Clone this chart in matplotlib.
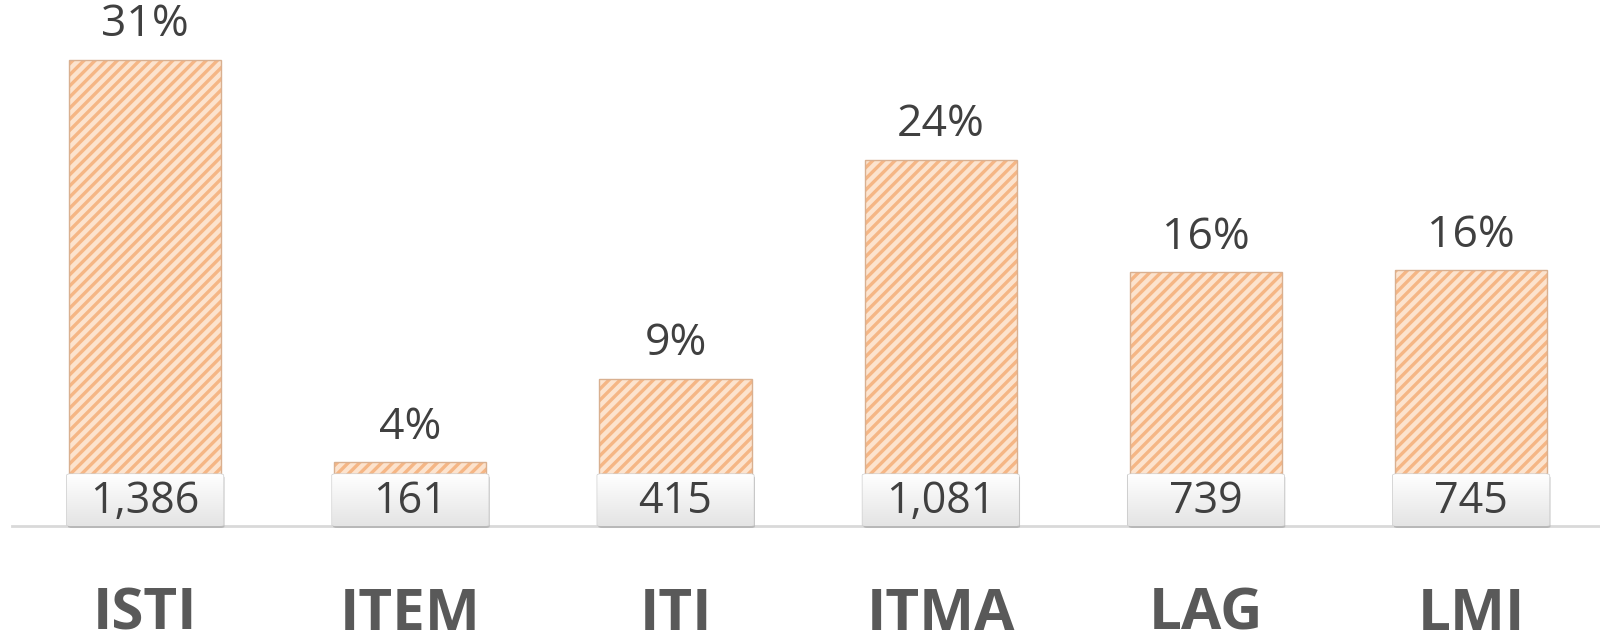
import matplotlib.pyplot as plt
from matplotlib.patches import FancyBboxPatch
import matplotlib as mpl
import numpy as np

categories = ['ISTI', 'ITEM', 'ITI', 'ITMA', 'LAG', 'LMI']
counts = [1386, 161, 415, 1081, 739, 745]
shares = ['31%', '4%', '9%', '24%', '16%', '16%']

mpl.rcParams['hatch.linewidth'] = 2.4

fig = plt.figure(figsize=(16, 6.34), dpi=100)
ax = fig.add_axes([0.0075, 0.1703, 0.9925, 0.8297])

base = -33  # baseline sits a little below the bars' zero (hidden by the boxes)

x = list(range(len(categories)))
bars = ax.bar(x, counts, width=0.574, color='#FCE3CE', hatch='///',
              edgecolor='#F5B685', linewidth=0, zorder=2)
for b in bars:
    ax.add_patch(plt.Rectangle(b.get_xy(), b.get_width(), b.get_height(),
                               fill=False, edgecolor='#D9B090', linewidth=1.0, zorder=3))

ax.set_xlim(-0.502, 5.486)
ax.set_ylim(base, 1567)

box_w = 0.59
box_h = 158
grad = np.linspace(0, 1, 64).reshape(-1, 1)
gcmap = mpl.colors.LinearSegmentedColormap.from_list('g', ['#E4E4E4', '#FFFFFF'])
for xi, c, s in zip(x, counts, shares):
    # shadow
    ax.add_patch(FancyBboxPatch((xi - box_w / 2 + 0.004, base - 6), box_w, box_h,
                                boxstyle='round,pad=0,rounding_size=0.015',
                                facecolor='#B8B8B8', edgecolor='none', zorder=4,
                                mutation_aspect=270, clip_on=False))
    box = FancyBboxPatch((xi - box_w / 2, base), box_w, box_h,
                         boxstyle='round,pad=0,rounding_size=0.015',
                         facecolor='#F6F6F6', edgecolor='#CFCFCF', linewidth=1,
                         zorder=5, mutation_aspect=270)
    ax.add_patch(box)
    im = ax.imshow(grad, extent=(xi - box_w / 2, xi + box_w / 2, base, base + box_h),
                   cmap=gcmap, aspect='auto', zorder=5.5, origin='lower', vmin=0, vmax=1)
    im.set_clip_path(box)
    ax.text(xi, base + box_h / 2 - 4, f'{c:,}', ha='center', va='center', fontsize=31,
            color='#404040', family='Open Sans', zorder=6)
    ax.annotate(s, (xi, c), xytext=(0, 9), textcoords='offset points',
                ha='center', va='bottom', fontsize=32, color='#404040',
                family='Open Sans')

ax.axhline(base, color='#D9D9D9', linewidth=2, zorder=1, clip_on=False)

ax.set_xticks(x)
ax.set_xticklabels(categories, fontsize=42, fontweight='bold', color='#595959',
                   family='Open Sans')
ax.tick_params(axis='x', length=0, pad=43)
ax.set_yticks([])
for sp in ax.spines.values():
    sp.set_visible(False)

fig.savefig('out.png', dpi=100)
